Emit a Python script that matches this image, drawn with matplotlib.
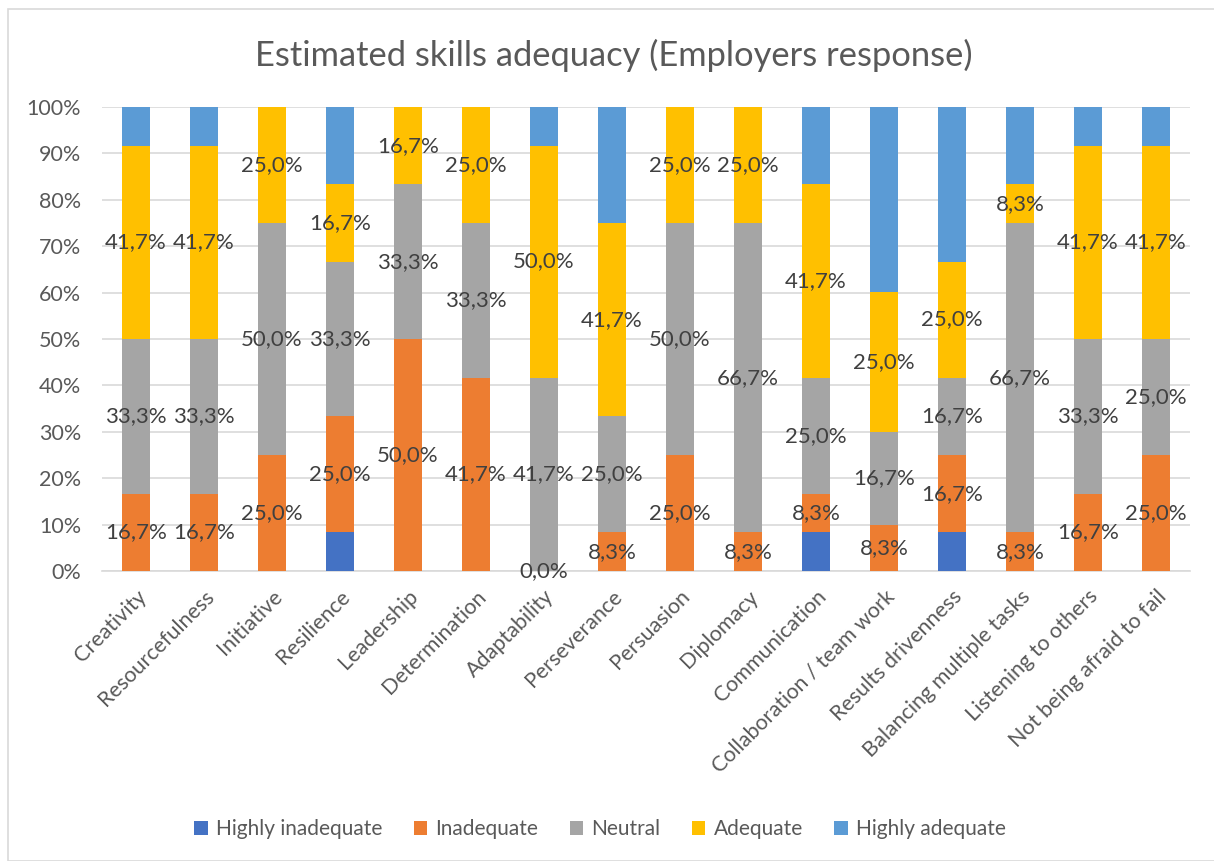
import matplotlib
matplotlib.use("Agg")
import matplotlib.pyplot as plt
from matplotlib.patches import Rectangle, Patch
import numpy as np

plt.rcParams['font.family'] = ['Lato', 'DejaVu Sans']

categories = [
    "Creativity", "Resourcefulness", "Initiative", "Resilience", "Leadership",
    "Determination", "Adaptability", "Perseverance", "Persuasion", "Diplomacy",
    "Communication", "Collaboration / team work", "Results drivenness",
    "Balancing multiple tasks", "Listening to others", "Not being afraid to fail",
]

series_names = ["Highly inadequate", "Inadequate", "Neutral", "Adequate", "Highly adequate"]

highly_inadequate = [0, 0, 0, 8.3, 0, 0, 0, 0, 0, 0, 8.3, 0, 8.3, 0, 0, 0]
inadequate = [16.7, 16.7, 25.0, 25.0, 50.0, 41.7, 0.0, 8.3, 25.0, 8.3, 8.3, 8.3, 16.7, 8.3, 16.7, 25.0]
neutral = [33.3, 33.3, 50.0, 33.3, 33.3, 33.3, 41.7, 25.0, 50.0, 66.7, 25.0, 16.7, 16.7, 66.7, 33.3, 25.0]
adequate = [41.7, 41.7, 25.0, 16.7, 16.7, 25.0, 50.0, 41.7, 25.0, 25.0, 41.7, 25.0, 25.0, 8.3, 41.7, 41.7]
highly_adequate = [8.3, 8.3, 0, 16.7, 0, 0, 8.3, 25.0, 0, 0, 16.7, 33.3, 33.3, 16.7, 8.3, 8.3]

colors = ["#4472C4", "#ED7D31", "#A5A5A5", "#FFC000", "#5B9BD5"]
labelled = [False, True, True, True, False]

W, H = 1214, 861
fig = plt.figure(figsize=(W / 100, H / 100), dpi=100)

# chart frame
fig.patches.append(Rectangle((8 / W, 0), 1.2, 1 - 9 / H, transform=fig.transFigure,
                             fill=False, edgecolor="#D9D9D9", linewidth=1.2, zorder=0))

ax = fig.add_axes([102 / W, 1 - 571 / H, 1088 / W, 464 / H])

data = np.array([highly_inadequate, inadequate, neutral, adequate, highly_adequate], dtype=float)
totals = data.sum(axis=0)
shares = data / totals * 100

x = np.arange(len(categories))
bottom = np.zeros(len(categories))
for i, name in enumerate(series_names):
    ax.bar(x, shares[i], 0.4, bottom=bottom, color=colors[i], label=name, zorder=3)
    if labelled[i]:
        for j in range(len(categories)):
            ax.text(x[j], bottom[j] + shares[i][j] / 2,
                    f"{data[i][j]:.1f}%".replace(".", ","),
                    ha="center", va="center", fontsize=16, color="#404040", zorder=4)
    bottom += shares[i]

ax.set_xlim(-0.5, len(categories) - 0.5)
ax.set_ylim(0, 100)
ax.set_yticks(np.arange(0, 101, 10))
ax.set_yticklabels([f"{v}%" for v in range(0, 101, 10)])
ax.yaxis.grid(True, color="#D9D9D9", linewidth=1.2, zorder=0)
ax.set_axisbelow(True)
for s in ["top", "right", "left"]:
    ax.spines[s].set_visible(False)
ax.spines["bottom"].set_color("#D9D9D9")
ax.spines["bottom"].set_linewidth(1.2)
ax.tick_params(axis="both", length=0, labelsize=15.5, labelcolor="#595959")
ax.tick_params(axis="y", pad=15)
ax.set_xticks(x)
ax.set_xticklabels(categories, rotation=45, ha="right", rotation_mode="anchor")
ax.tick_params(axis="x", pad=11)

fig.text(614 / W, 1 - 55 / H, "Estimated skills adequacy (Employers response)",
         ha="center", va="center", fontsize=24.8, color="#595959")

handles = [Patch(facecolor=c, edgecolor="none") for c in colors]
fig.legend(handles, series_names, loc="center", bbox_to_anchor=(600 / W, 1 - 829 / H),
           ncol=5, frameon=False, fontsize=15, labelcolor="#595959",
           handlelength=0.65, handleheight=0.65, handletextpad=0.4, columnspacing=1.5)

fig.savefig("out.png", dpi=100, facecolor="white")
